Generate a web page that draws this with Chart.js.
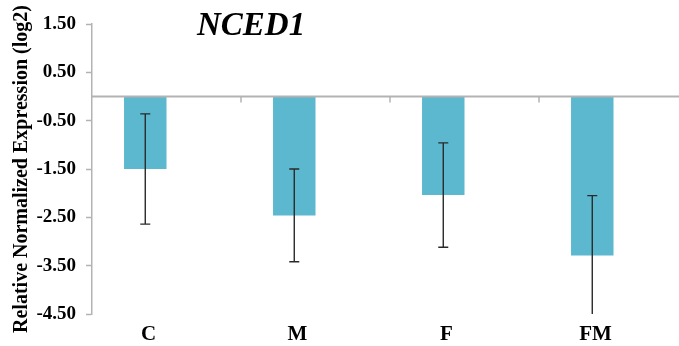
<!DOCTYPE html>
<html>
<head>
<meta charset="utf-8">
<script src="https://cdn.jsdelivr.net/npm/chart.js@4.4.1/dist/chart.umd.min.js"></script>
<style>
  html, body { margin: 0; padding: 0; background: #fff; overflow: hidden; }
  #wrap { position: relative; width: 688px; height: 346px; }
</style>
</head>
<body>
<div id="wrap"><canvas id="chart"></canvas></div>
<script>
// Relative expression of NCED1 (log2) per treatment, with standard errors
const categories = ['C', 'M', 'F', 'FM'];
const expression = [-1.50, -2.46, -2.04, -3.29];
const errors = [1.14, 0.96, 1.08, 1.24];
// empty companion series; keeps each bar in the left half of its category
const companion = [null, null, null, null];

const yMin = -4.5;
const yMax = 1.5;
const yStep = 1;

const SERIF = "'Liberation Serif', 'Times New Roman', serif";
const AXIS_GREY = '#b3b3b3';
const BAR_BLUE = '#5bb8cf';

// zero baseline with category separators hanging below it
const baseline = {
  id: 'baseline',
  afterDatasetsDraw(chart) {
    const { ctx, chartArea: a, scales: { x, y } } = chart;
    const y0 = y.getPixelForValue(0);
    ctx.save();
    ctx.strokeStyle = AXIS_GREY;
    ctx.lineWidth = 2;
    ctx.beginPath();
    ctx.moveTo(a.left, y0);
    ctx.lineTo(a.right, y0);
    ctx.stroke();
    ctx.lineWidth = 1.5;
    for (let i = 1; i <= categories.length; i++) {
      const bx = (x.getPixelForValue(i - 1) + x.getPixelForValue(i)) / 2;
      ctx.beginPath();
      ctx.moveTo(bx, y0);
      ctx.lineTo(bx, y0 + 6);
      ctx.stroke();
    }
    ctx.restore();
  }
};

// symmetric error bars, clipped to the plot area
const errorBars = {
  id: 'errorBars',
  afterDatasetsDraw(chart) {
    const { ctx, chartArea: a, scales: { y } } = chart;
    const meta = chart.getDatasetMeta(0);
    ctx.save();
    ctx.beginPath();
    ctx.rect(a.left, a.top, a.right - a.left, a.bottom - a.top);
    ctx.clip();
    ctx.strokeStyle = '#2a2a2a';
    ctx.lineWidth = 1.4;
    meta.data.forEach((bar, i) => {
      const hi = y.getPixelForValue(expression[i] + errors[i]);
      const lo = y.getPixelForValue(expression[i] - errors[i]);
      const cx = bar.x;
      const cap = 5;
      ctx.beginPath();
      ctx.moveTo(cx, hi); ctx.lineTo(cx, lo);
      ctx.moveTo(cx - cap, hi); ctx.lineTo(cx + cap, hi);
      ctx.moveTo(cx - cap, lo); ctx.lineTo(cx + cap, lo);
      ctx.stroke();
    });
    ctx.restore();
  }
};

// gene name inside the plot, upper left
const geneTitle = {
  id: 'geneTitle',
  afterDraw(chart) {
    const { ctx, chartArea: a } = chart;
    ctx.save();
    ctx.font = `italic bold 33px ${SERIF}`;
    ctx.fillStyle = '#000';
    ctx.textAlign = 'left';
    ctx.textBaseline = 'alphabetic';
    ctx.fillText('NCED1', a.left + 105, a.top + 11);
    ctx.restore();
  }
};

new Chart(document.getElementById('chart'), {
  type: 'bar',
  data: {
    labels: categories,
    datasets: [
      { data: expression, backgroundColor: BAR_BLUE, borderWidth: 0 },
      { data: companion, backgroundColor: BAR_BLUE, borderWidth: 0 }
    ]
  },
  options: {
    responsive: true,
    maintainAspectRatio: false,
    animation: false,
    events: [],
    categoryPercentage: 0.57,
    barPercentage: 1.0,
    layout: { padding: { top: 24, left: 0, right: 0, bottom: 0 } },
    plugins: {
      legend: { display: false },
      tooltip: { enabled: false },
      title: { display: false }
    },
    scales: {
      x: {
        grid: { display: false, drawTicks: false },
        border: { display: false },
        ticks: {
          color: '#000',
          font: { family: SERIF, weight: 'bold', size: 21 },
          labelOffset: -18,
          padding: 8
        },
        afterFit(scale) { scale.height = 32; }
      },
      y: {
        min: yMin,
        max: yMax,
        ticks: {
          stepSize: yStep,
          color: '#000',
          font: { family: SERIF, weight: 'bold', size: 19 },
          padding: 10,
          callback: v => Number(v).toFixed(2)
        },
        grid: {
          drawOnChartArea: false,
          drawTicks: true,
          tickLength: 6,
          tickColor: AXIS_GREY,
          tickWidth: 1.5
        },
        border: { display: true, color: AXIS_GREY, width: 1.5 },
        title: {
          display: true,
          text: 'Relative Normalized Expression (log2)',
          color: '#000',
          font: { family: SERIF, weight: 'bold', size: 20 },
          padding: { top: 10, bottom: 0 }
        },
        afterFit(scale) { scale.width = 92; }
      }
    }
  },
  plugins: [baseline, errorBars, geneTitle]
});
</script>
</body>
</html>
